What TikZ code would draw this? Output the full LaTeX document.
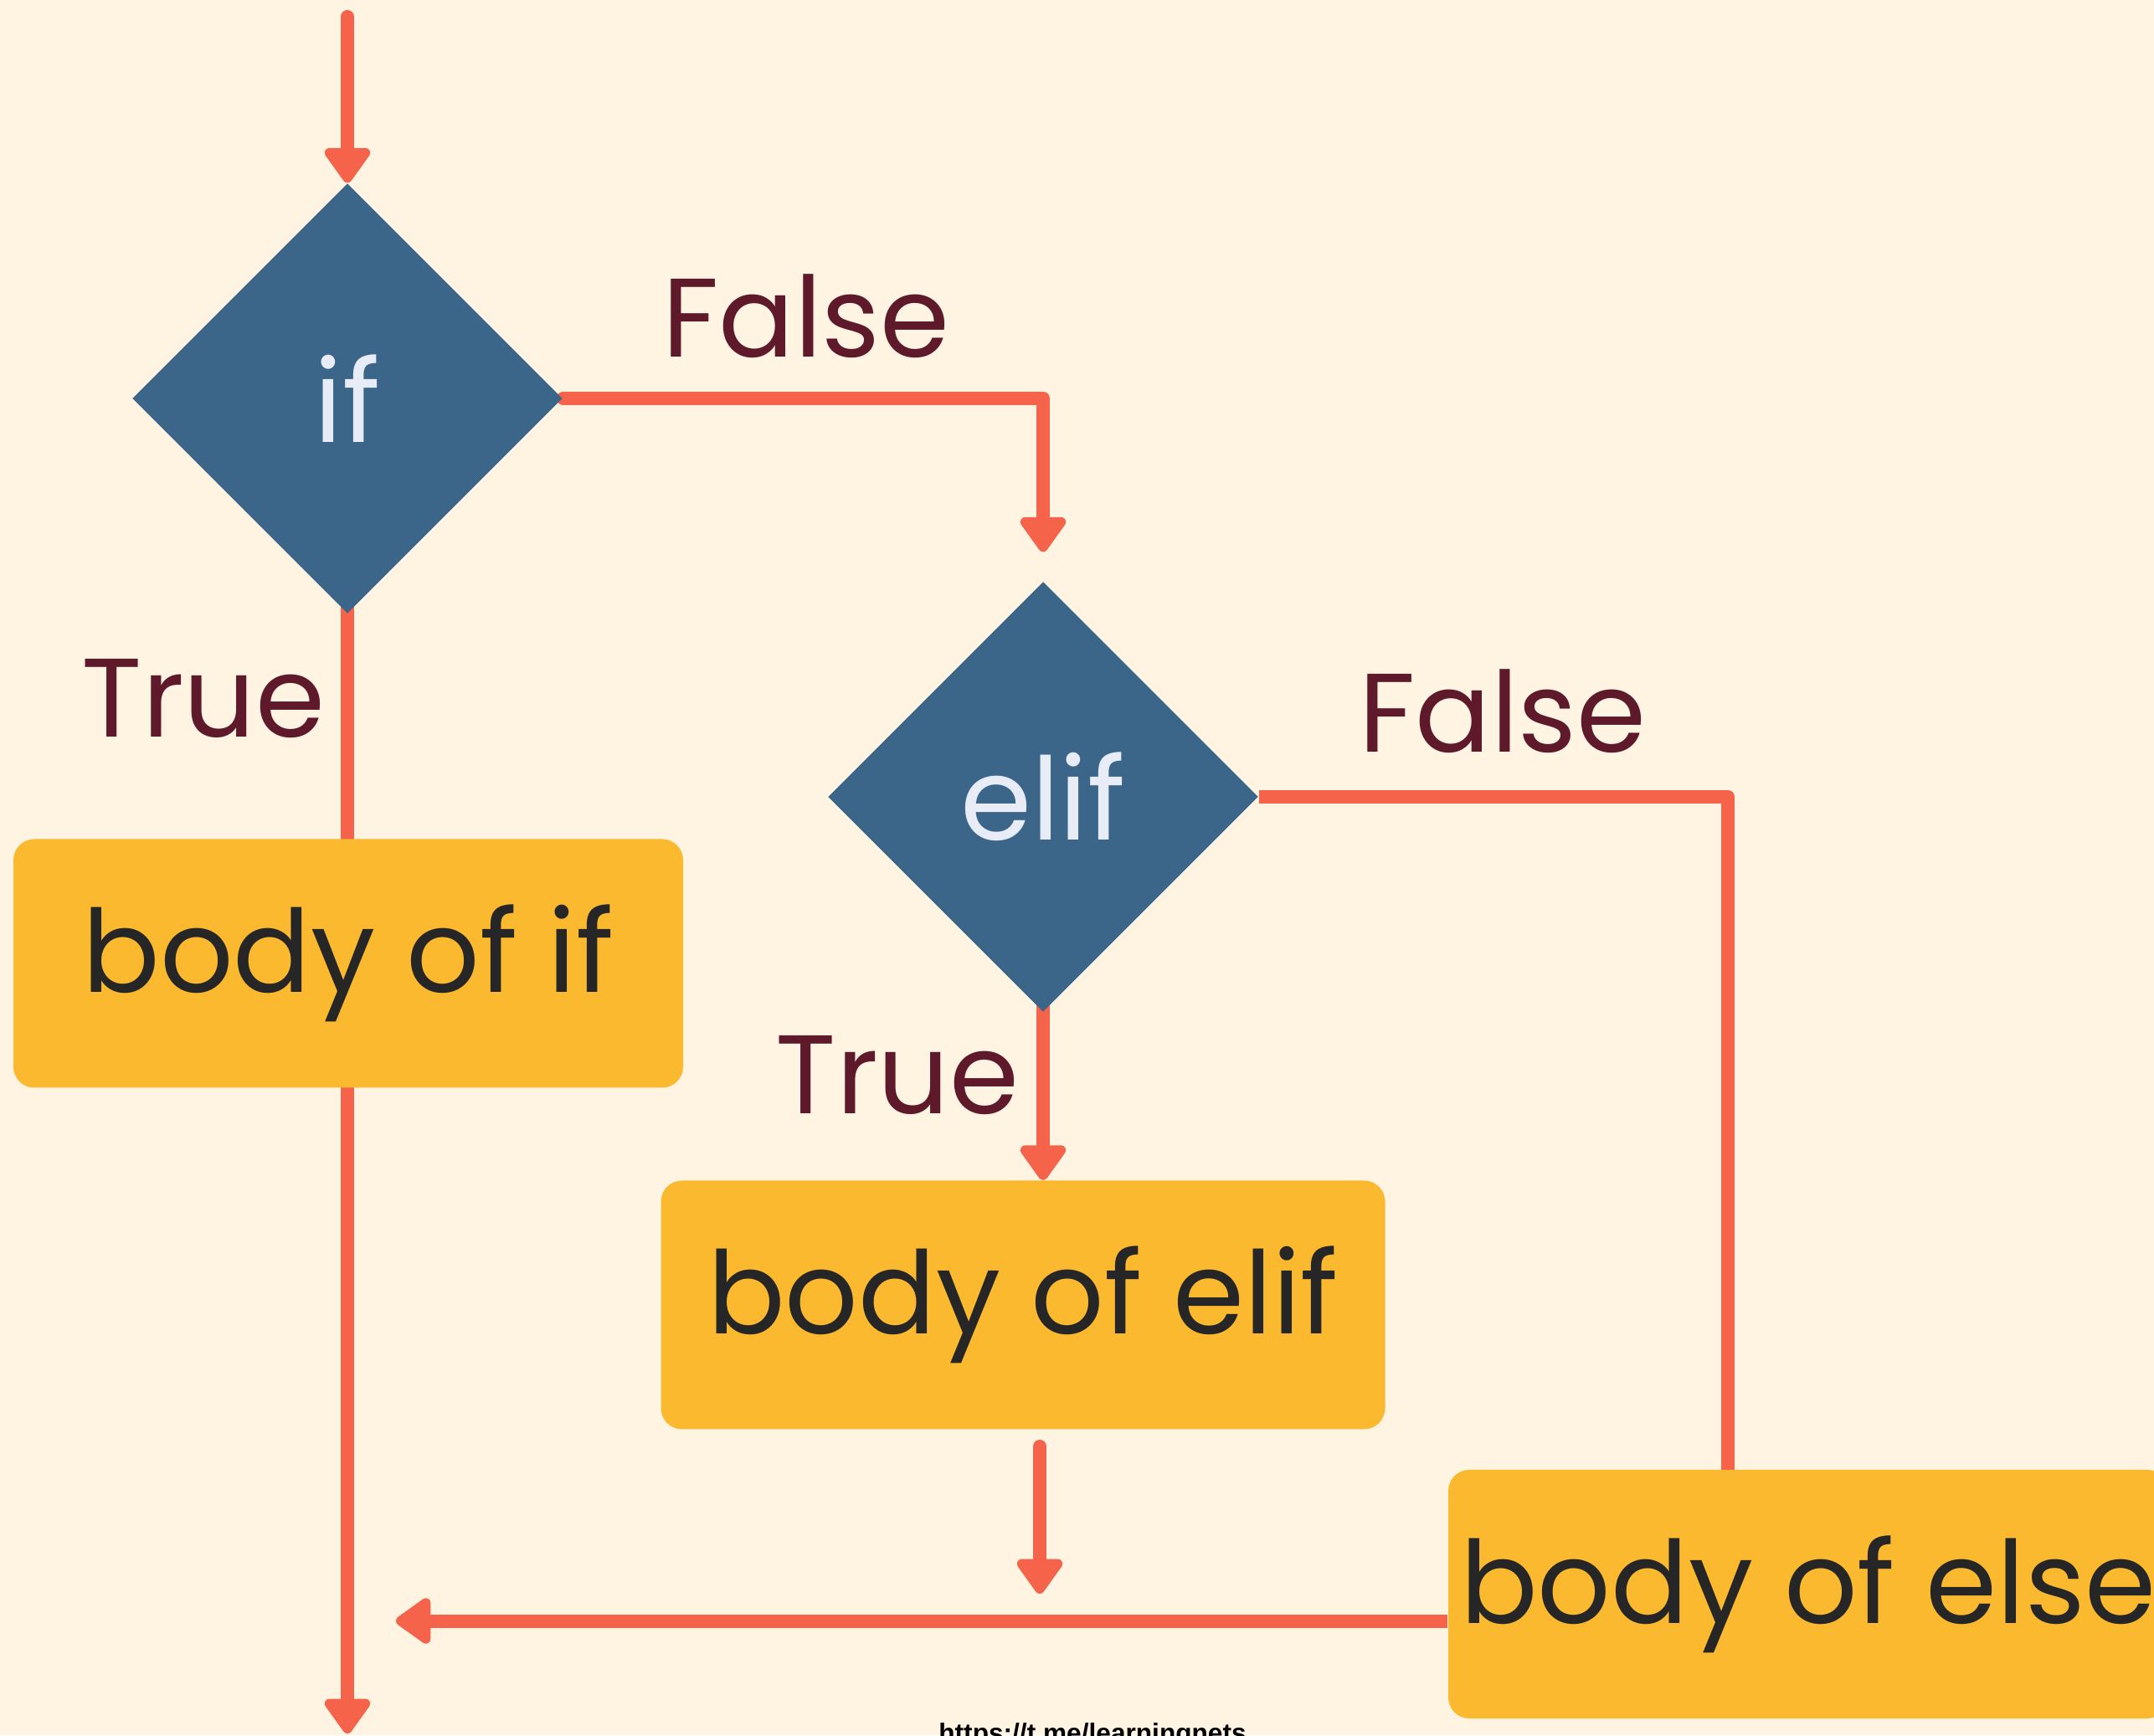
\documentclass[tikz,border=0pt]{standalone}
\usepackage{fontspec}
\setmainfont{Poppins}
\newfontfamily\urlfont{Liberation Sans}
\usetikzlibrary{shapes.geometric,arrows.meta,backgrounds}

\definecolor{bgcream}{HTML}{FFF3E2}
\definecolor{flowred}{HTML}{F4634A}
\definecolor{condblue}{HTML}{3B6689}
\definecolor{bodyyellow}{HTML}{FBB92F}
\definecolor{labelred}{HTML}{5E1A2B}
\definecolor{condtext}{HTML}{E8ECF7}
\definecolor{bodytext}{HTML}{262626}

\begin{document}
\begin{tikzpicture}[>={Triangle[width=0.62cm,length=0.46cm,round]},
    flow/.style={draw=flowred,line width=0.16cm,line join=round},
    cond/.style={diamond,aspect=1,minimum size=5.14cm,inner sep=0pt,fill=condblue,text=condtext,font=\fontsize{39}{46}\selectfont},
    bodybox/.style={rectangle,rounded corners=0.25cm,fill=bodyyellow,text=bodytext,minimum height=2.97cm,inner sep=0pt,font=\fontsize{39}{46}\selectfont},
    lbl/.style={text=labelred,anchor=base,font=\fontsize{38}{46}\selectfont}]
  \useasboundingbox (0,0) rectangle (25.73,20.73);

  % 判定
  \node[cond] (ifc) at (4.15,15.97) {if};
  \node[cond] (elifc) at (12.46,11.21) {elif};

  % 処理
  \node[bodybox,minimum width=8.00cm] (ifbody) at (4.16,9.22) {body of if};
  \node[bodybox,minimum width=8.65cm] (elifbody) at (12.22,5.14) {body of elif};
  \node[bodybox,minimum width=8.60cm] (elsebody) at (21.60,1.685) {body of else};

  % ラベル
  \node[lbl] (false1) at (9.63,16.46) {False};
  \node[lbl] (false2) at (17.95,11.74) {False};
  \node[lbl] (true1) at (2.43,11.92) {True};
  \node[lbl] (true2) at (10.72,7.42) {True};
  \node[anchor=north,inner sep=0pt,font=\urlfont\bfseries\fontsize{9}{11}\selectfont] (url) at (13.05,0.15) {https://t.me/learningnets};

  % 補助点
  \coordinate (start) at (4.15,20.53);
  \coordinate (elifturn) at (20.64,11.21);
  \coordinate (elifout) at (12.42,3.45);
  \coordinate (elifend) at (12.42,1.69);
  \coordinate (merge) at (4.73,1.37);
  \coordinate (exit) at (4.15,0.02);

  % 矢印
  \begin{scope}[on background layer]
    \fill[bgcream] (0,0) rectangle (25.73,20.73);
    \draw[flow,->,line cap=round] (start) -- (ifc.north);
    \draw[flow,->,line cap=round,shorten >=0.35cm] (ifc.east) -| (elifc.north);
    \draw[flow,->] (ifc.center) -- (exit);
    \draw[flow,->] (elifc.center) -- (elifc.center |- elifbody.north);
    \draw[flow] (elifc.east) -- (elifturn) -- (elifturn |- elsebody.center);
    \draw[flow,->,line cap=round] (elifout) -- (elifend);
    \draw[flow,->] ([yshift=-0.32cm]elsebody.west) -- ([yshift=-0.32cm]elsebody.west -| merge);
  \end{scope}
\end{tikzpicture}
\end{document}
